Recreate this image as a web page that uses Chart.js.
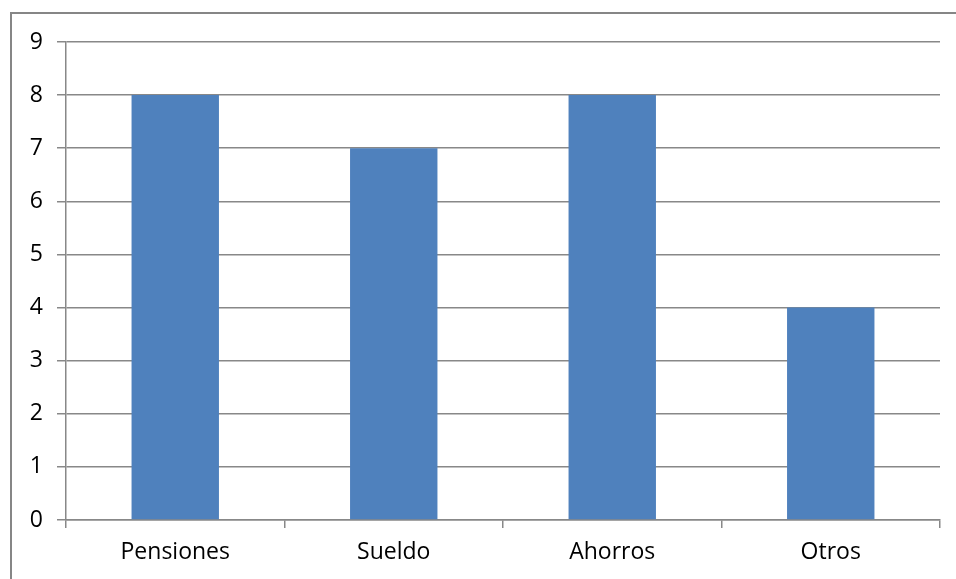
<!DOCTYPE html>
<html>
<head>
<meta charset="utf-8">
<script src="https://cdn.jsdelivr.net/npm/chart.js@4/dist/chart.umd.min.js"></script>
<style>
  html, body { margin: 0; padding: 0; background: #fff; }
  #wrap { position: relative; width: 956px; height: 579px; overflow: hidden; }
  #frame { position: absolute; left: 10px; top: 12px; width: 1000px; height: 700px;
           border-left: 2px solid #868686; border-top: 2px solid #868686; box-sizing: border-box; }
  canvas { position: absolute; left: 0; top: 0; }
</style>
</head>
<body>
<div id="wrap">
  <div id="frame"></div>
  <canvas id="c" width="956" height="579"></canvas>
</div>
<script>
// Fuentes de ingreso
const categories = ["Pensiones", "Sueldo", "Ahorros", "Otros"];
const values = [8, 7, 8, 4];
const yTicks = [0, 1, 2, 3, 4, 5, 6, 7, 8, 9];

const FONT = "'Open Sans', 'DejaVu Sans', sans-serif";
const GRID = "#888888";

new Chart(document.getElementById("c"), {
  type: "bar",
  data: {
    labels: categories,
    datasets: [{
      data: values,
      backgroundColor: "#4F81BD",
      borderWidth: 0,
      barPercentage: 0.4,
      categoryPercentage: 1.0
    }]
  },
  options: {
    responsive: false,
    animation: false,
    events: [],
    layout: { padding: { top: 42, right: 16, left: 0, bottom: 0 } },
    plugins: { legend: { display: false }, tooltip: { enabled: false } },
    scales: {
      x: {
        grid: {
          offset: true,
          drawOnChartArea: false,
          drawTicks: true,
          tickLength: 8,
          color: GRID,
          lineWidth: 1.5
        },
        border: { color: GRID, width: 1.5 },
        ticks: { color: "#000", font: { family: FONT, size: 23 }, padding: 11, maxRotation: 0 },
        afterFit: (s) => { s.height = 59; }
      },
      y: {
        min: 0,
        max: 9,
        afterBuildTicks: (s) => { s.ticks = yTicks.map(v => ({ value: v })); },
        grid: { color: GRID, lineWidth: 1.5, tickLength: 9 },
        border: { color: GRID, width: 1.5 },
        ticks: { color: "#000", font: { family: FONT, size: 23 }, padding: 14 },
        afterFit: (s) => { s.width = 66; }
      }
    }
  }
});
</script>
</body>
</html>
